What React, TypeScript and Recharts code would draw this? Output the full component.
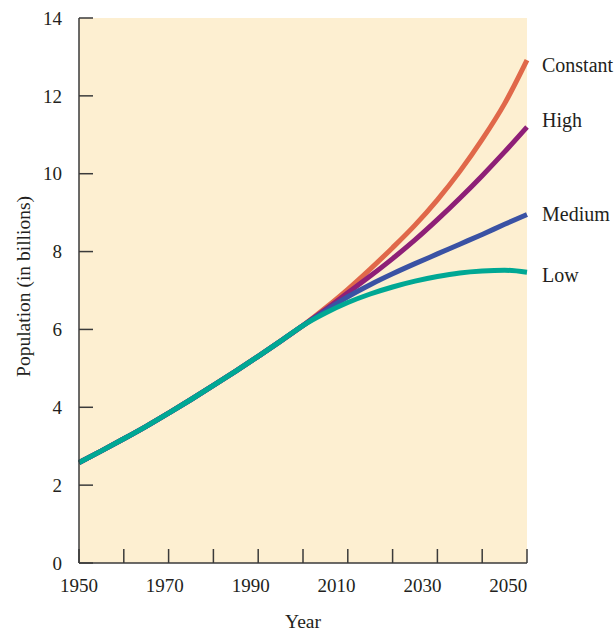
import React from "react";
import { LineChart, Line, XAxis, YAxis, CartesianGrid } from "recharts";

const years = [1950, 1955, 1960, 1965, 1970, 1975, 1980, 1985, 1990, 1995, 2000, 2005, 2010, 2015, 2020, 2025, 2030, 2035, 2040, 2045, 2050];
const past = [2.58, 2.88, 3.19, 3.51, 3.85, 4.2, 4.56, 4.93, 5.31, 5.7, 6.1];
const constant = [...past, 6.55, 7.03, 7.55, 8.1, 8.68, 9.33, 10.06, 10.88, 11.8, 12.92];
const high = [...past, 6.51, 6.94, 7.37, 7.82, 8.3, 8.82, 9.37, 9.95, 10.56, 11.2];
const medium = [...past, 6.48, 6.84, 7.15, 7.43, 7.69, 7.94, 8.19, 8.44, 8.7, 8.95];
const low = [...past, 6.42, 6.69, 6.91, 7.09, 7.24, 7.36, 7.45, 7.5, 7.52, 7.47];

const markTicks = [1950, 1960, 1970, 1980, 1990, 2000, 2010, 2020, 2030, 2040, 2050];
const yearLabels = [1950, 1970, 1990, 2010, 2030, 2050];
const yTicks = [0, 2, 4, 6, 8, 10, 12, 14];

const data = years.map((y, i) => ({
  year: y,
  constant: constant[i],
  high: high[i],
  medium: medium[i],
  low: low[i],
}));

const FONT = "'Liberation Serif', 'Times New Roman', serif";
const INK = "#231f20";
const AXIS = "#3a3a3a";

const endLabel = (name: string, dy: number) => (props: any) => {
  const x = props.x ?? props.viewBox?.x;
  const y = props.y ?? props.viewBox?.y;
  if (props.index !== years.length - 1) return null;
  return (
    <text
      x={x + 15}
      y={y + dy}
      fill={INK}
      fontSize={20}
      fontFamily={FONT}
      dominantBaseline="central"
    >
      {name}
    </text>
  );
};

const yLabel = (props: any) => {
  const vb = props.viewBox || {};
  const cx = vb.x + 23;
  const cy = vb.y + vb.height / 2 - 4;
  return (
    <text
      x={cx}
      y={cy}
      transform={`rotate(-90, ${cx}, ${cy})`}
      textAnchor="middle"
      dominantBaseline="central"
      fill={INK}
      fontSize={19.5}
      fontFamily={FONT}
    >
      Population (in billions)
    </text>
  );
};

const noTick = () => <g />;

export default function App() {
  return (
    <div style={{ position: "absolute", left: 0, top: 0, width: 616, height: 631, background: "#fff" }}>
      <LineChart
        width={616}
        height={631}
        data={data}
        margin={{ top: 18, right: 89, left: 0, bottom: 0 }}
      >
        <CartesianGrid horizontal={false} vertical={false} fill="#fdefd1" stroke="none" />
        <XAxis
          xAxisId="b"
          dataKey="year"
          type="number"
          domain={[1950, 2054.35]}
          ticks={yearLabels}
          interval={0}
          height={67}
          axisLine={false}
          tickLine={false}
          tickSize={0}
          tickMargin={15}
          tick={{ fill: INK, fontSize: 19, fontFamily: FONT }}
          label={{ value: "Year", position: "insideBottom", offset: 3, fill: INK, fontSize: 19.5, fontFamily: FONT }}
        />
        <XAxis
          xAxisId="a"
          dataKey="year"
          type="number"
          domain={[1950, 2050]}
          ticks={markTicks}
          interval={0}
          height={1}
          tick={noTick}
          tickSize={-14}
          axisLine={{ stroke: AXIS, strokeWidth: 1.5 }}
          tickLine={{ stroke: AXIS, strokeWidth: 1.5 }}
        />
        <YAxis
          type="number"
          domain={[0, 14]}
          ticks={yTicks}
          interval={0}
          width={79}
          tickSize={-14}
          tickMargin={31}
          axisLine={{ stroke: AXIS, strokeWidth: 1.5 }}
          tickLine={{ stroke: AXIS, strokeWidth: 1.5 }}
          tick={{ fill: INK, fontSize: 19, fontFamily: FONT }}
          label={{ content: yLabel }}
        />
        <Line xAxisId="a" type="monotone" dataKey="constant" stroke="#e0684a" strokeWidth={5} dot={false} isAnimationActive={false} label={endLabel("Constant", 5)} />
        <Line xAxisId="a" type="monotone" dataKey="high" stroke="#8e1f77" strokeWidth={5} dot={false} isAnimationActive={false} label={endLabel("High", -7)} />
        <Line xAxisId="a" type="monotone" dataKey="medium" stroke="#3a52a4" strokeWidth={5} dot={false} isAnimationActive={false} label={endLabel("Medium", -1)} />
        <Line xAxisId="a" type="monotone" dataKey="low" stroke="#00a894" strokeWidth={5} dot={false} isAnimationActive={false} label={endLabel("Low", 3)} />
      </LineChart>
    </div>
  );
}
